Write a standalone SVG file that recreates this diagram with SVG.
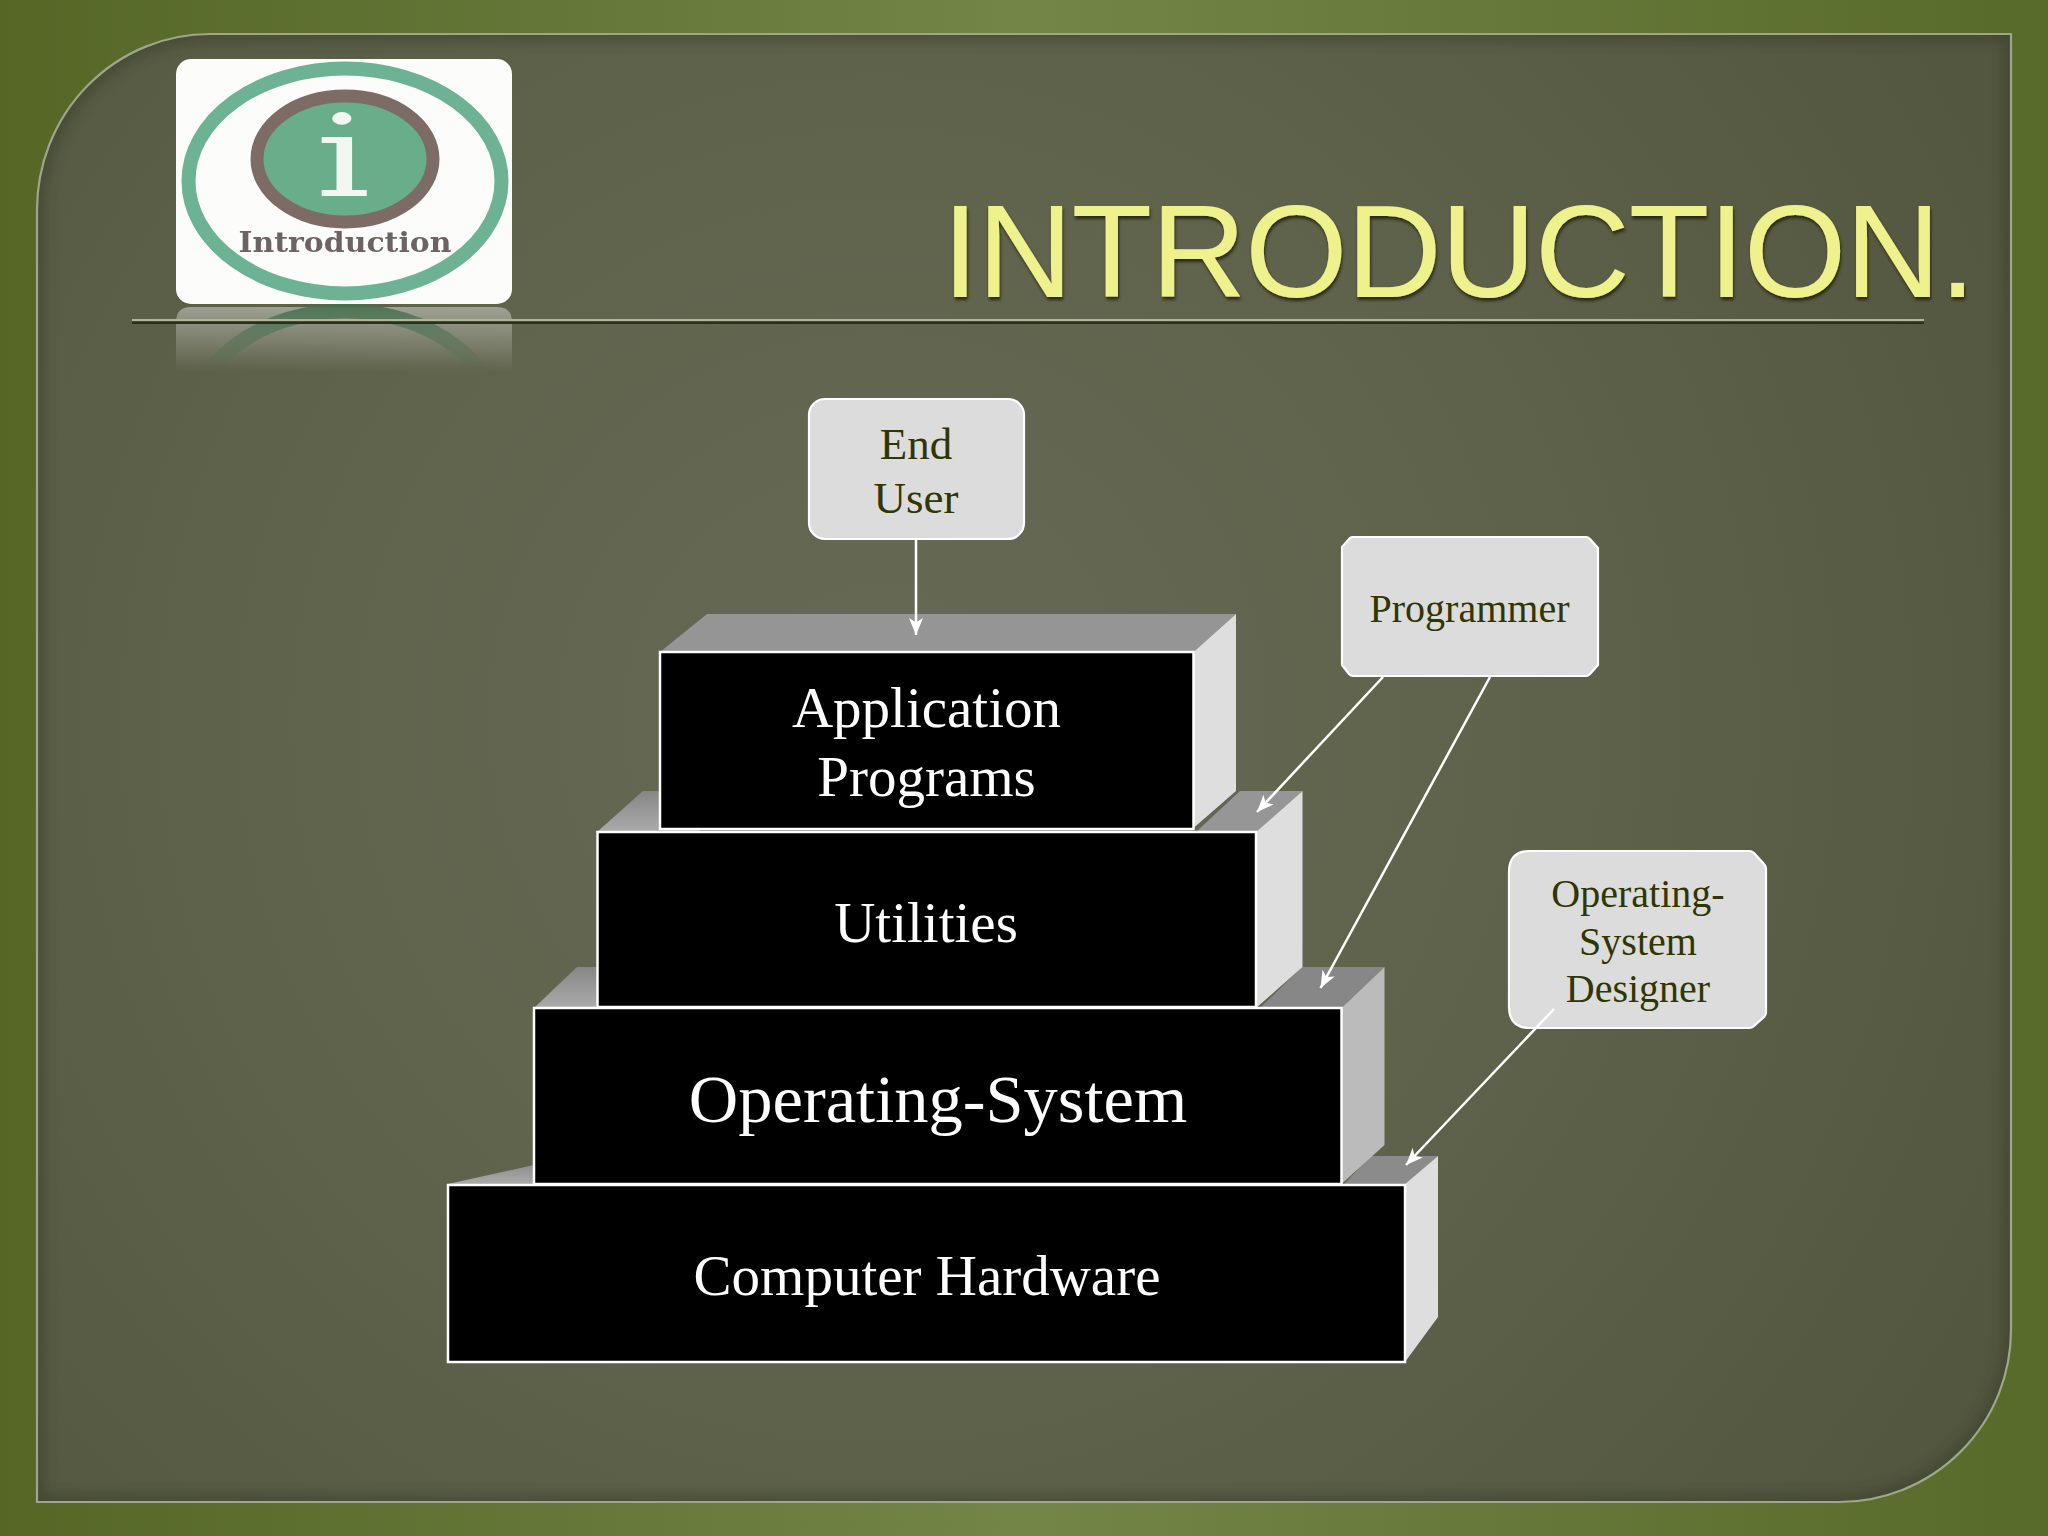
<svg xmlns="http://www.w3.org/2000/svg" width="2048" height="1536" viewBox="0 0 2048 1536">
<defs>
<linearGradient id="bg" x1="0" y1="0" x2="1" y2="0"><stop offset="0" stop-color="#556625"/><stop offset="0.5" stop-color="#728648"/><stop offset="1" stop-color="#586a29"/></linearGradient>
<radialGradient id="panelFill" gradientUnits="userSpaceOnUse" cx="880" cy="720" r="1250"><stop offset="0" stop-color="#666a56"/><stop offset="0.5" stop-color="#5f634b"/><stop offset="1" stop-color="#53573f"/></radialGradient>
<linearGradient id="fade" x1="0" y1="0" x2="0" y2="1"><stop offset="0" stop-color="#fff" stop-opacity="0.4"/><stop offset="1" stop-color="#fff" stop-opacity="0"/></linearGradient>
<linearGradient id="maskFade" gradientUnits="userSpaceOnUse" x1="0" y1="306" x2="0" y2="375"><stop offset="0" stop-color="#fff" stop-opacity="0.9"/><stop offset="1" stop-color="#fff" stop-opacity="0"/></linearGradient>
<linearGradient id="leftTop" x1="0" y1="0" x2="0" y2="1"><stop offset="0" stop-color="#868686"/><stop offset="1" stop-color="#ababab"/></linearGradient>
<mask id="reflMask" maskUnits="userSpaceOnUse" x="170" y="300" width="350" height="80"><rect x="170" y="300" width="350" height="80" fill="url(#maskFade)"/></mask>
<clipPath id="panelClip"><path d="M37 210A173 176 0 0 1 210 34H2011V1330A172 172 0 0 1 1839 1502H37Z"/></clipPath>
<filter id="blur8" x="-5%" y="-5%" width="110%" height="110%"><feGaussianBlur stdDeviation="7"/></filter>
<filter id="soft" x="-5%" y="-5%" width="110%" height="110%"><feGaussianBlur stdDeviation="0.7"/></filter>
<filter id="titleShadow" x="-3%" y="-10%" width="106%" height="125%"><feDropShadow dx="1" dy="3" stdDeviation="1.800" flood-color="#20230f" flood-opacity="0.9"/></filter>
<marker id="arrow" markerUnits="userSpaceOnUse" markerWidth="18" markerHeight="16" refX="17" refY="8" orient="auto" viewBox="0 0 18 16"><path d="M17 8L0 1L4.500 8L0 15Z" fill="#fff"/></marker>
<style>
.serif{font-family:"Liberation Serif","Times New Roman",serif;text-anchor:middle}
.front{fill:#000;stroke:#fff;stroke-width:2.500}
.wt{fill:#fff;font-size:57px}
.callout{fill:#dcdcdc;stroke:#fff;stroke-width:2.200}
.ct{fill:#303600}
.line{stroke:#fff;stroke-width:2.500;fill:none;marker-end:url(#arrow)}
</style>
</defs>
<rect id="background" width="2048" height="1536" fill="url(#bg)"/>
<g id="panel">
<path d="M37 210A173 176 0 0 1 210 34H2011V1330A172 172 0 0 1 1839 1502H37Z" fill="url(#panelFill)"/>
<g clip-path="url(#panelClip)"><path d="M37 210A173 176 0 0 1 210 34H2011V1330A172 172 0 0 1 1839 1502H37Z" fill="none" stroke="#2e3122" stroke-width="12" opacity="0.5" filter="url(#blur8)"/></g>
<path d="M37 210A173 176 0 0 1 210 34H2011V1330A172 172 0 0 1 1839 1502H37Z" fill="none" stroke="#9ea68c" stroke-width="2.200"/>
</g>
<g id="logo-reflection">
<path d="M176 372V322Q176 307 191 307H497Q512 307 512 322V372Z" fill="url(#fade)"/>
<ellipse cx="345" cy="431" rx="156" ry="120" fill="none" stroke="#47704f" stroke-width="15" mask="url(#reflMask)"/>
</g>
<g id="logo">
<rect x="176" y="59" width="336" height="245" rx="15" fill="#fcfdfb"/>
<g filter="url(#soft)">
<ellipse cx="345" cy="181" rx="156.500" ry="112.500" fill="none" stroke="#6db292" stroke-width="14"/>
<ellipse cx="345" cy="159" rx="88" ry="63" fill="#68ae8b" stroke="#7d6c66" stroke-width="13"/>
<text transform="translate(343 196) scale(1.500 1)" x="0" y="0" font-family="'DejaVu Serif',serif" font-size="115" text-anchor="middle" fill="#f2f7f1">i</text>
<text x="345" y="252" font-family="'DejaVu Serif',serif" font-weight="700" font-size="27" text-anchor="middle" textLength="213" lengthAdjust="spacingAndGlyphs" fill="#6d6463">Introduction</text>
</g>
</g>
<g id="title-rule">
<rect x="132" y="321" width="1792" height="3" fill="#2c2f1d"/>
<rect x="132" y="319" width="1792" height="2.200" fill="#b0b69a"/>
</g>
<text id="title" x="942" y="297" font-family="'Liberation Sans',Arial,sans-serif" font-size="132" textLength="1034" fill="#eff28c" filter="url(#titleShadow)">INTRODUCTION.</text>
<g id="layer-hardware">
<polygon points="448,1184 534,1165 600,1160 534,1184" fill="url(#leftTop)"/>
<polygon points="1344,1184 1371,1156 1438,1156 1405,1184" fill="#8b8b8b"/>
<polygon points="1405,1184 1438,1156 1438,1317 1405,1362" fill="#dedede"/>
<rect class="front" x="448" y="1185" width="957" height="177"/>
<text class="serif wt" x="927" y="1295">Computer Hardware</text>
</g>
<g id="layer-os">
<polygon points="534,1008 577,967 640,967 640,1008" fill="url(#leftTop)"/>
<polygon points="1260,1008 1302,967 1384.500,967 1341.500,1008" fill="#878787"/>
<polygon points="1341.500,1008 1384.500,967 1384.500,1145 1341.500,1184" fill="#bbbbbb"/>
<rect class="front" x="534" y="1008" width="807.500" height="176"/>
<text class="serif" x="938" y="1122" fill="#fff" font-size="68.500">Operating-System</text>
</g>
<g id="layer-utilities">
<polygon points="597,832 643,791 700,791 700,832" fill="url(#leftTop)"/>
<polygon points="1196,832 1240,791 1302.500,791 1256,832" fill="#969696"/>
<polygon points="1256,832 1302.500,791 1302.500,967 1256,1008" fill="#dedede"/>
<rect class="front" x="597.500" y="832" width="658.500" height="175"/>
<text class="serif wt" x="926" y="942">Utilities</text>
</g>
<g id="layer-application">
<polygon points="660,652 707,614 1236,614 1193.500,652" fill="#959595"/>
<polygon points="1193.500,652 1236,614 1236,791 1193.500,828" fill="#dedede"/>
<rect class="front" x="660" y="652" width="533.500" height="177"/>
<text class="serif wt" x="926.500" y="727">Application</text>
<text class="serif wt" x="926.500" y="796">Programs</text>
</g>
<g id="end-user">
<rect class="callout" x="809" y="399" width="215" height="140" rx="16"/>
<text class="serif ct" x="916" y="459" font-size="45">End</text>
<text class="serif ct" x="916" y="513" font-size="45">User</text>
</g>
<g id="programmer">
<path class="callout" d="M1342 547L1350 538Q1351 537 1353 537H1586Q1588 537 1590 539L1598 548V665L1590 674Q1588 676 1586 676H1353Q1351 676 1349 674L1342 665Z"/>
<text class="serif ct" x="1469.500" y="622" font-size="40">Programmer</text>
</g>
<g id="os-designer">
<path class="callout" d="M1509 872Q1509 851 1530 851H1749Q1752 851 1754 853L1764 864Q1766 866 1766 869V1013Q1766 1015 1764 1017L1754 1026Q1752 1028 1749 1028H1530Q1509 1028 1509 1007Z"/>
<text class="serif ct" x="1638" y="907" font-size="40">Operating-</text>
<text class="serif ct" x="1638" y="955" font-size="40">System</text>
<text class="serif ct" x="1638" y="1002" font-size="40">Designer</text>
</g>
<g id="connectors">
<line class="line" x1="916" y1="539" x2="916" y2="635"/>
<line class="line" x1="1383" y1="677" x2="1257" y2="812"/>
<line class="line" x1="1490" y1="677" x2="1320.500" y2="988"/>
<line class="line" x1="1554" y1="1009" x2="1406" y2="1165"/>
</g>
</svg>
